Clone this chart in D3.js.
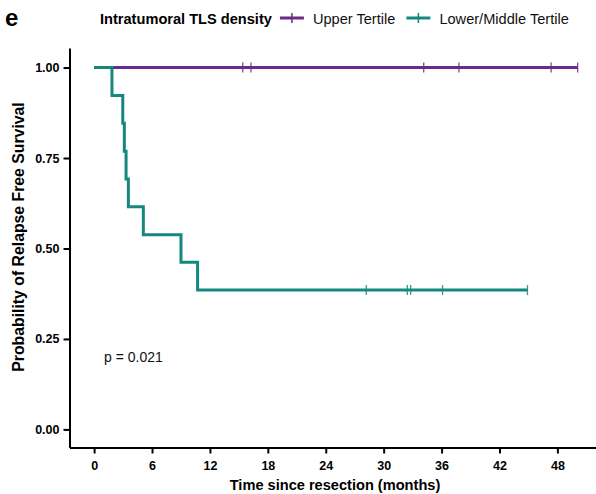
<!DOCTYPE html>
<html>
<head>
<meta charset="utf-8">
<script src="https://cdn.jsdelivr.net/npm/d3@7"></script>
<style>
  html, body { margin: 0; padding: 0; background: #fff; }
  svg { display: block; font-family: "Liberation Sans", Arial, sans-serif; }
</style>
</head>
<body>
<svg id="chart" width="596" height="494"></svg>
<script>
// Kaplan–Meier relapse-free survival by intratumoral TLS density
const groupNames = ["Upper Tertile", "Lower/Middle Tertile"];
const groupColors = ["#6a2b88", "#15877f"];

// Upper tertile: no events; follow-up to last censor
const upperStepTimes = [0];
const upperStepSurv = [1.0];
const upperEnd = 50.1;
const upperCensorTimes = [15.4, 16.25, 34.15, 37.8, 47.35, 50.1];

// Lower/middle tertile: step times (months) and survival after each step
const lowerStepTimes = [0, 1.85, 2.97, 3.13, 3.31, 3.55, 5.1, 9.0, 10.72];
const lowerStepSurv = [1.0, 0.923, 0.846, 0.769, 0.692, 0.615, 0.538, 0.462, 0.385];
const lowerEnd = 44.9;
const lowerCensorTimes = [28.2, 32.45, 32.8, 36.1, 44.9];

const xTicks = [0, 6, 12, 18, 24, 30, 36, 42, 48];
const yTicks = [0, 0.25, 0.5, 0.75, 1.0];
const pLabel = "p = 0.021";

const svg = d3.select("#chart");

const x = d3.scaleLinear().domain([-2.55, 52.0]).range([69.5, 596]);
const y = d3.scaleLinear().domain([-0.05, 1.054]).range([447.5, 48]);

// Axes
const xAxis = d3.axisBottom(x).tickValues(xTicks).tickFormat(d3.format("d"))
  .tickSize(6).tickSizeOuter(0);
const yAxis = d3.axisLeft(y).tickValues(yTicks).tickFormat(d3.format(".2f"))
  .tickSize(6).tickSizeOuter(0);

const gx = svg.append("g").attr("transform", `translate(0,${y(-0.05)})`).call(xAxis);
const gy = svg.append("g").attr("transform", `translate(${x(-2.55)},0)`).call(yAxis);

[gx, gy].forEach(g => {
  g.select(".domain").attr("stroke", "#000").attr("stroke-width", 2);
  g.selectAll(".tick line").attr("stroke", "#000").attr("stroke-width", 2);
  g.selectAll(".tick text").attr("fill", "#000").style("font-size", "12.5px")
    .style("font-weight", "bold").style("font-family", "'Liberation Sans', Arial, sans-serif");
});
gx.selectAll(".tick text").attr("dy", "1.05em");
gy.selectAll(".tick text").attr("dx", "-1px");

// Step curve builder
function stepPath(times, surv, end) {
  const pts = [];
  times.forEach((t, i) => {
    if (i > 0) pts.push([t, surv[i - 1]]);
    pts.push([t, surv[i]]);
  });
  pts.push([end, surv[surv.length - 1]]);
  return d3.line().x(d => x(d[0])).y(d => y(d[1]))(pts);
}

function survAt(times, surv, t) {
  let s = surv[0];
  times.forEach((tt, i) => { if (tt <= t) s = surv[i]; });
  return s;
}

const groups = [
  { times: upperStepTimes, surv: upperStepSurv, end: upperEnd, cens: upperCensorTimes, color: groupColors[0] },
  { times: lowerStepTimes, surv: lowerStepSurv, end: lowerEnd, cens: lowerCensorTimes, color: groupColors[1] }
];

// Upper group first; the lower curve overlays it until its first event
groups.forEach(g => {
  svg.append("path")
    .attr("d", stepPath(g.times, g.surv, g.end))
    .attr("fill", "none")
    .attr("stroke", g.color)
    .attr("stroke-width", 3)
    .attr("stroke-linejoin", "miter")
    .attr("stroke-linecap", "butt");
  svg.selectAll(null).data(g.cens).enter().append("line")
    .attr("x1", d => x(d)).attr("x2", d => x(d))
    .attr("y1", d => y(survAt(g.times, g.surv, d)) - 5)
    .attr("y2", d => y(survAt(g.times, g.surv, d)) + 5)
    .attr("stroke", g.color)
    .attr("stroke-width", 1.3)
    .attr("opacity", 0.85);
});

// p-value annotation
svg.append("text").attr("x", 104).attr("y", 362)
  .style("font-size", "14px").attr("fill", "#111").text(pLabel);

// Axis titles
svg.append("text")
  .attr("x", 335).attr("y", 490)
  .attr("text-anchor", "middle")
  .style("font-size", "14.6px").style("font-weight", "bold")
  .text("Time since resection (months)");

svg.append("text")
  .attr("transform", `translate(24,237) rotate(-90)`)
  .attr("text-anchor", "middle")
  .style("font-size", "15.8px").style("font-weight", "bold")
  .text("Probability of Relapse Free Survival");

// Panel letter
svg.append("text").attr("x", 5).attr("y", 26)
  .style("font-size", "24px").style("font-weight", "bold").text("e");

// Legend
const legend = svg.append("g").attr("transform", "translate(0,18)");
const legendTitle = legend.append("text").attr("x", 100).attr("y", 5.5)
  .style("font-size", "14.6px").style("font-weight", "bold").text("Intratumoral TLS density");

let lx = 100 + legendTitle.node().getComputedTextLength() + 8;
groupNames.forEach((name, i) => {
  legend.append("line").attr("x1", lx).attr("x2", lx + 24).attr("y1", 0).attr("y2", 0)
    .attr("stroke", groupColors[i]).attr("stroke-width", 3);
  legend.append("line").attr("x1", lx + 12).attr("x2", lx + 12).attr("y1", -5).attr("y2", 5)
    .attr("stroke", groupColors[i]).attr("stroke-width", 1.5);
  const t = legend.append("text").attr("x", lx + 33).attr("y", 5.5)
    .style("font-size", "14.6px").attr("fill", "#111").text(name);
  lx += 33 + t.node().getComputedTextLength() + 11;
});
</script>
</body>
</html>
